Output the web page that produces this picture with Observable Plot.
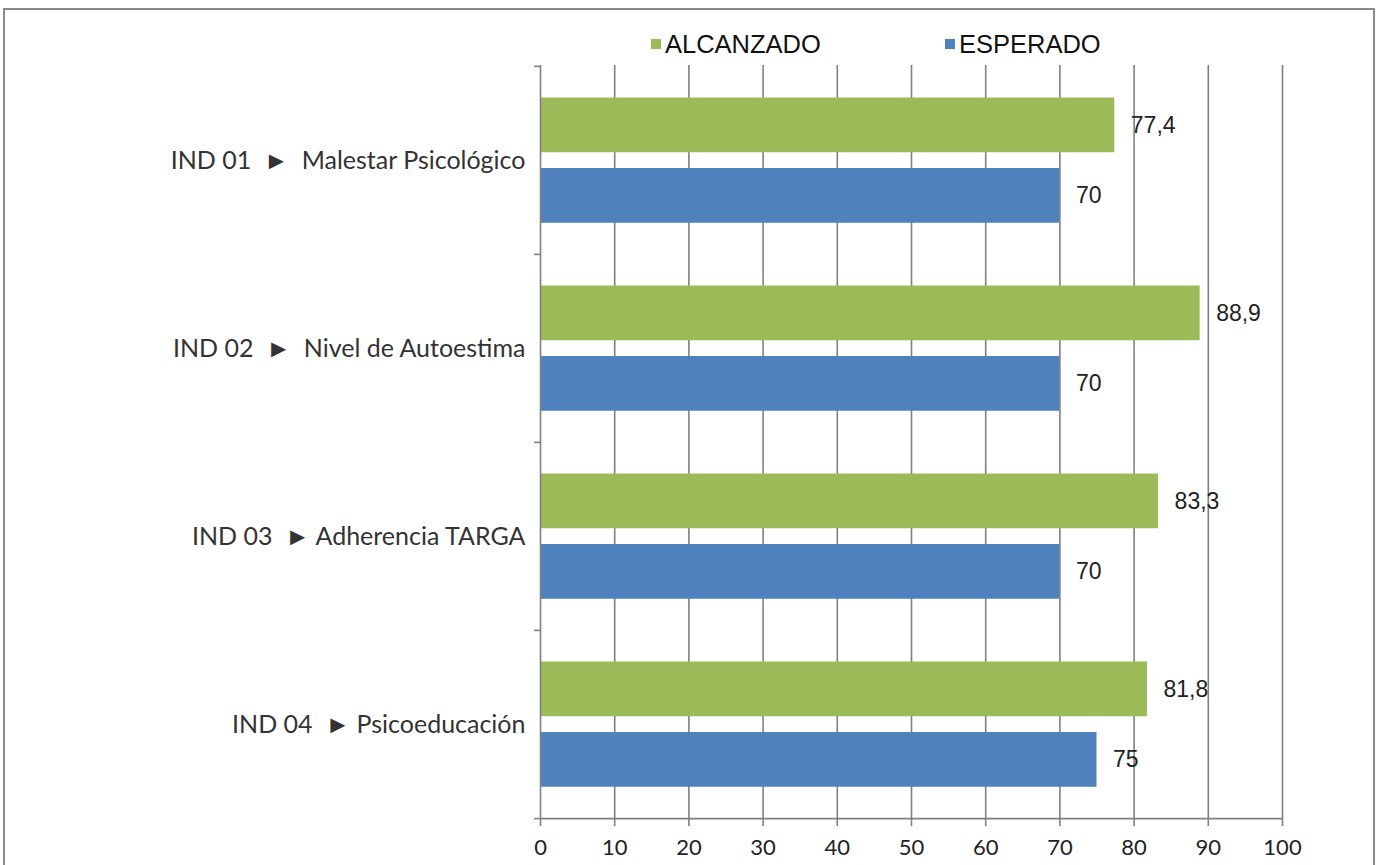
<!DOCTYPE html>
<html><head><meta charset="utf-8">
<script src="https://cdn.jsdelivr.net/npm/d3@7"></script>
<script src="https://cdn.jsdelivr.net/npm/@observablehq/plot@0.6"></script>
<style>
body{margin:0;background:#fff;}
#wrap{position:relative;width:1379px;height:865px;overflow:hidden;background:#fff;}
#chart{position:absolute;left:0;top:0;}
#border{position:absolute;left:3px;top:8px;width:1368px;height:900px;border:2px solid #8a8a8a;pointer-events:none;}
.leg{position:absolute;top:31px;height:26px;font-family:"Liberation Sans",Arial,sans-serif;font-size:25.5px;color:#111;display:flex;align-items:center;white-space:nowrap;}
.sw{width:10px;height:10px;margin-right:4px;}
#chart svg{white-space:pre;}
</style></head><body>
<div id="wrap"><div id="chart"></div><div id="border"></div><div id="legend"></div></div>
<script>
const categories = [
  "IND 01  \u25BA  Malestar Psicológico",
  "IND 02  \u25BA  Nivel de Autoestima",
  "IND 03  \u25BA Adherencia TARGA",
  "IND 04  \u25BA Psicoeducación"
];
const seriesNames = ["ALCANZADO", "ESPERADO"];
const alcanzado = [77.4, 88.9, 83.3, 81.8];
const esperado = [70, 70, 70, 75];
const xTicks = [0, 10, 20, 30, 40, 50, 60, 70, 80, 90, 100];
const colors = ["#9BBB59", "#4F81BD"];

const W = 1379, H = 865, mL = 540, mR = 97, mT = 65, mB = 47;
const band = (H - mT - mB) / categories.length;
const plotW = W - mL - mR;
const fmt = v => String(v).replace(".", ",");

const rowsA = categories.map((c, i) => ({cat: c, v: alcanzado[i]}));
const rowsE = categories.map((c, i) => ({cat: c, v: esperado[i]}));

// legend
const leg = document.getElementById("legend");
const legX = [651, 945];
seriesNames.forEach((s, i) => {
  const d = document.createElement("div");
  d.className = "leg";
  d.style.left = legX[i] + "px";
  d.innerHTML = `<span class="sw" style="background:${colors[i]}"></span><span>${s}</span>`;
  leg.appendChild(d);
});

const gridColor = "#808080";
const chart = Plot.plot({
  width: W, height: H,
  marginLeft: mL, marginRight: mR, marginTop: mT, marginBottom: mB,
  style: {background: "transparent", overflow: "visible"},
  x: {domain: [0, 100], ticks: xTicks},
  y: {domain: categories, padding: 0},
  marks: [
    Plot.gridX(xTicks.filter(t => t > 0), {stroke: gridColor, strokeOpacity: 1, strokeWidth: 1.6}),
    Plot.barX(rowsA, {y: "cat", x: "v", fill: colors[0], insetTop: 31.5, insetBottom: band - 86.5}),
    Plot.barX(rowsE, {y: "cat", x: "v", fill: colors[1], insetTop: 102, insetBottom: band - 157}),
    Plot.ruleX([0], {stroke: gridColor, strokeWidth: 1.6}),
    Plot.ruleY(categories, {y: d => d, dy: -band / 2, dx: -6, insetRight: plotW - 6, stroke: gridColor, strokeWidth: 1.6}),
    Plot.ruleY(categories.slice(-1), {y: d => d, dy: band / 2, dx: -6, insetRight: plotW - 6, stroke: gridColor, strokeWidth: 1.6}),
    Plot.ruleY(categories.slice(-1), {y: d => d, dy: band / 2, stroke: gridColor, strokeWidth: 1.6}),
    Plot.axisX(xTicks, {tickSize: 8, tickPadding: 13, stroke: gridColor, strokeWidth: 1.6, fontSize: 22, fontFamily: "Lato, 'Open Sans', sans-serif", fill: "#222", label: null}),
    Plot.axisY({tickSize: 0, tickPadding: 15, fontSize: 25, fontFamily: "Lato, 'Open Sans', sans-serif", fill: "#333", label: null}),
    Plot.text(rowsA, {y: "cat", x: "v", text: d => fmt(d.v), dx: 16, dy: -35, textAnchor: "start", fontSize: 23, fontFamily: "'Liberation Sans', Arial, sans-serif", fill: "#222"}),
    Plot.text(rowsE, {y: "cat", x: "v", text: d => fmt(d.v), dx: 16, dy: 35.5, textAnchor: "start", fontSize: 23, fontFamily: "'Liberation Sans', Arial, sans-serif", fill: "#222"})
  ]
});
document.getElementById("chart").appendChild(chart);
</script>
</body></html>
